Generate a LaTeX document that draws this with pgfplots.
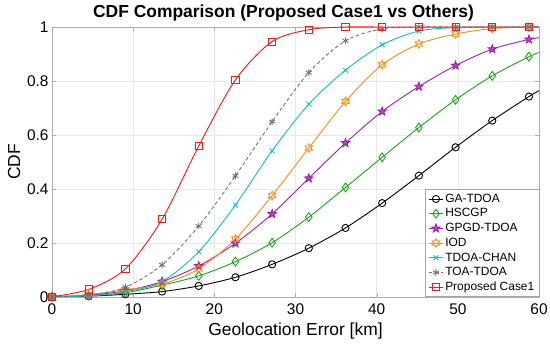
\documentclass[border=0pt]{standalone}
\usepackage{pgfplots}
\pgfplotsset{compat=1.18}
\usepackage{pgfplotstable}
\usepackage{fontspec}
\setmainfont{Liberation Sans}
\usetikzlibrary{plotmarks}

\definecolor{cgreen}{RGB}{25,165,25}
\definecolor{cpurple}{RGB}{160,30,170}
\definecolor{corange}{RGB}{255,140,20}
\definecolor{ccyan}{RGB}{20,190,190}
\definecolor{cgray}{RGB}{115,115,115}
\definecolor{cred}{RGB}{255,20,20}

\pgfdeclareplotmark{pentagram}{%
  \pgfpathmoveto{\pgfpointpolar{90}{1.35\pgfplotmarksize}}%
  \pgfpathlineto{\pgfpointpolar{126}{0.55\pgfplotmarksize}}%
  \pgfpathlineto{\pgfpointpolar{162}{1.35\pgfplotmarksize}}%
  \pgfpathlineto{\pgfpointpolar{198}{0.55\pgfplotmarksize}}%
  \pgfpathlineto{\pgfpointpolar{234}{1.35\pgfplotmarksize}}%
  \pgfpathlineto{\pgfpointpolar{270}{0.55\pgfplotmarksize}}%
  \pgfpathlineto{\pgfpointpolar{306}{1.35\pgfplotmarksize}}%
  \pgfpathlineto{\pgfpointpolar{342}{0.55\pgfplotmarksize}}%
  \pgfpathlineto{\pgfpointpolar{18}{1.35\pgfplotmarksize}}%
  \pgfpathlineto{\pgfpointpolar{54}{0.55\pgfplotmarksize}}%
  \pgfpathclose
  \pgfusepathqfillstroke}
\pgfdeclareplotmark{hexagram}{%
  \pgfpathmoveto{\pgfpointpolar{90}{1.25\pgfplotmarksize}}%
  \pgfpathlineto{\pgfpointpolar{120}{0.7\pgfplotmarksize}}%
  \pgfpathlineto{\pgfpointpolar{150}{1.25\pgfplotmarksize}}%
  \pgfpathlineto{\pgfpointpolar{180}{0.7\pgfplotmarksize}}%
  \pgfpathlineto{\pgfpointpolar{210}{1.25\pgfplotmarksize}}%
  \pgfpathlineto{\pgfpointpolar{240}{0.7\pgfplotmarksize}}%
  \pgfpathlineto{\pgfpointpolar{270}{1.25\pgfplotmarksize}}%
  \pgfpathlineto{\pgfpointpolar{300}{0.7\pgfplotmarksize}}%
  \pgfpathlineto{\pgfpointpolar{330}{1.25\pgfplotmarksize}}%
  \pgfpathlineto{\pgfpointpolar{0}{0.7\pgfplotmarksize}}%
  \pgfpathlineto{\pgfpointpolar{30}{1.25\pgfplotmarksize}}%
  \pgfpathlineto{\pgfpointpolar{60}{0.7\pgfplotmarksize}}%
  \pgfpathclose
  \pgfusepathqstroke}

\pgfplotstableread{
x      ga     hs     gp     iod    chan   toa    prop
0      0      0      0      0      0      0      0
4.52   0.002  0.004  0.005  0.008  0.003  0.006  0.027
9.04   0.009  0.015  0.022  0.026  0.018  0.035  0.103
13.56  0.019  0.043  0.056  0.047  0.056  0.118  0.287
18.08  0.040  0.077  0.114  0.103  0.167  0.262  0.559
22.60  0.072  0.130  0.198  0.214  0.340  0.448  0.804
27.12  0.120  0.200  0.307  0.375  0.541  0.649  0.946
31.64  0.180  0.295  0.439  0.551  0.714  0.831  0.990
36.16  0.255  0.405  0.570  0.724  0.840  0.949  1.000
40.68  0.347  0.517  0.687  0.860  0.934  0.993  1.000
45.20  0.449  0.627  0.779  0.937  0.985  1.000  1.000
49.72  0.554  0.730  0.857  0.974  0.998  1.000  1.000
54.24  0.653  0.819  0.918  0.994  1.000  1.000  1.000
58.76  0.742  0.890  0.954  1.000  1.000  1.000  1.000
60.00  0.764  0.905  0.960  1.000  1.000  1.000  1.000
}\datatable

\begin{document}
\begin{tikzpicture}
\begin{axis}[
  scale only axis,
  width=487bp, height=269.7bp,
  xmin=0, xmax=60, ymin=0, ymax=1,
  xtick={0,10,...,60},
  ytick={0,0.2,...,1},
  yticklabels={0,0.2,0.4,0.6,0.8,1},
  /pgf/number format/assume math mode=true,
  tick label style={font=\fontsize{15.5}{18}\selectfont},
  xticklabel style={yshift=-3bp},
  label style={font=\fontsize{17.5}{20}\selectfont},
  xlabel={Geolocation Error [km]},
  xlabel style={yshift=-2bp},
  ylabel={CDF},
  title={\textbf{CDF Comparison (Proposed Case1 vs Others)}},
  title style={font=\fontsize{17.5}{20}\selectfont, yshift=-4bp, xshift=-12bp},
  grid=major,
  grid style={gray!18, line width=0.4pt},
  axis line style={gray!65},
  tick align=inside,
  major tick length=4bp,
  tick style={gray!65},
  every axis plot/.append style={line width=0.9pt, smooth, mark indices={1,2,3,4,5,6,7,8,9,10,11,12,13,14}},
  legend style={at={(1,0)}, anchor=south east, draw=gray!70, fill=white,
    font=\fontsize{12}{14}\selectfont,
    nodes={text height=9bp, text depth=2.5bp, inner ysep=1.6bp, inner xsep=1.5bp},
    row sep=0pt},
  legend cell align=left,
  legend image code/.code={\draw[mark indices={2}] plot coordinates {(0cm,0cm)(0.26cm,0cm)(0.52cm,0cm)};},
]
\addplot[black, mark=o, mark size=3.6bp, mark options={solid}] table[x=x,y=ga] {\datatable};
\addlegendentry{GA-TDOA}
\addplot[cgreen, mark=diamond, mark size=4.4bp, mark options={solid}] table[x=x,y=hs] {\datatable};
\addlegendentry{HSCGP}
\addplot[cpurple, mark=pentagram, mark size=3.2bp, mark options={solid, fill=cpurple!80}] table[x=x,y=gp] {\datatable};
\addlegendentry{GPGD-TDOA}
\addplot[corange, mark=hexagram, mark size=3.4bp, mark options={solid}] table[x=x,y=iod] {\datatable};
\addlegendentry{IOD}
\addplot[ccyan, mark=x, mark size=3.4bp, mark options={solid}] table[x=x,y=chan] {\datatable};
\addlegendentry{TDOA-CHAN}
\addplot[cgray, dash pattern=on 3.5bp off 2.5bp, mark=asterisk, mark size=3.4bp, mark options={solid}] table[x=x,y=toa] {\datatable};
\addlegendentry{TOA-TDOA}
\addplot[cred, mark=square, mark size=3.6bp, mark options={solid}] table[x=x,y=prop] {\datatable};
\addlegendentry{Proposed Case1}
\end{axis}
\pgfresetboundingbox
\path ([xshift=-52bp,yshift=-52.3bp]current axis.south west) rectangle ([xshift=11bp,yshift=27bp]current axis.north east);
\end{tikzpicture}
\end{document}
